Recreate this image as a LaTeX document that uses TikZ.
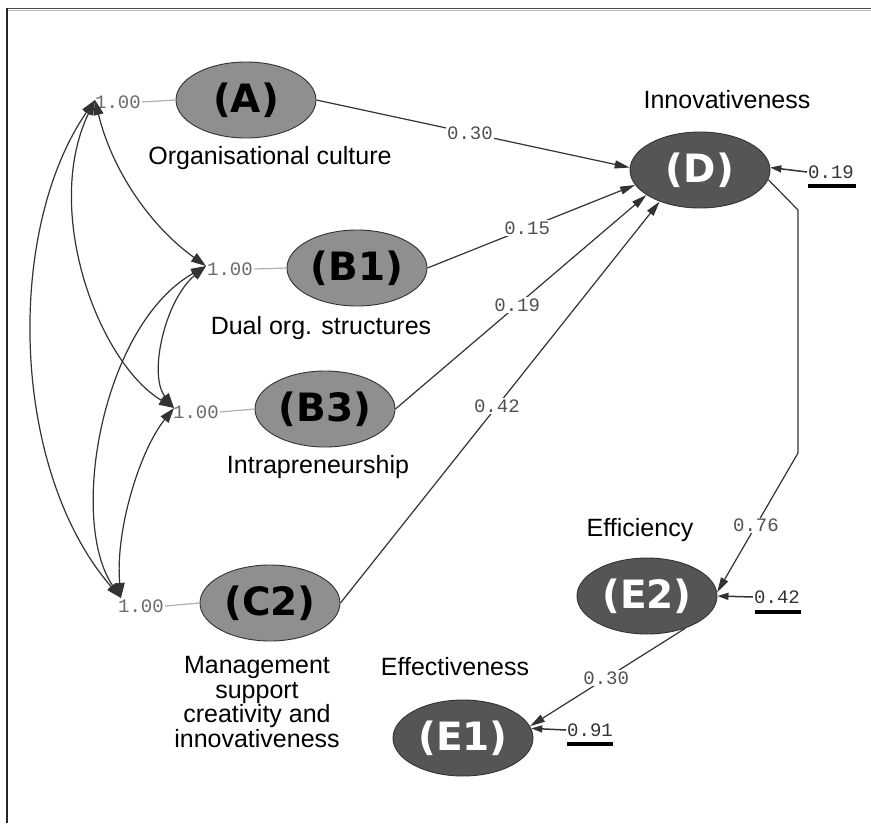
\documentclass[tikz,border=0pt]{standalone}
\usepackage{fontspec}
\setmainfont{Liberation Sans}
\newfontfamily\capfam{Liberation Sans}
\newfontfamily\latfam{DejaVu Sans}
\newfontfamily\numfam{Liberation Mono}
\usetikzlibrary{shapes.geometric,arrows.meta}
\definecolor{lightfill}{HTML}{8F8F8F}
\definecolor{darkfill}{HTML}{555555}
\definecolor{linecol}{HTML}{333333}
\definecolor{numcol}{HTML}{505050}
\definecolor{varcol}{HTML}{6A6A6A}
\definecolor{stubcol}{HTML}{B0B0B0}
\tikzset{
  lat/.style={ellipse, draw=black!80, line width=0.9pt, fill=lightfill,
    minimum width=140pt, minimum height=76pt, inner sep=0pt,
    font=\latfam\bfseries\fontsize{39}{39}\selectfont},
  latdark/.style={lat, fill=darkfill, text=white},
  capt/.style={font=\capfam\fontsize{25}{24.4}\selectfont, inner sep=0pt},
  varlbl/.style={font=\numfam\fontsize{19}{19}\selectfont, text=varcol, inner sep=1pt},
  lbl/.style={font=\numfam\fontsize{19}{19}\selectfont, text=numcol, fill=white, inner sep=1.5pt},
  reslbl/.style={font=\numfam\fontsize{19}{19}\selectfont, text=linecol, inner sep=1pt},
  pathln/.style={draw=linecol, line width=1.2pt, -{Triangle[length=15pt,width=8pt]}},
  covln/.style={draw=linecol, line width=1.2pt, {Triangle[length=15pt,width=10pt]}-{Triangle[length=15pt,width=10pt]}},
  resln/.style={draw=linecol, line width=1.5pt, -{Triangle[length=11pt,width=7pt]}},
  stub/.style={draw=stubcol, line width=1.2pt},
  resbar/.style={draw=black, line width=4pt},
}
\begin{document}
\begin{tikzpicture}[x=1pt,y=-1pt]
\useasboundingbox (0,0) rectangle (871,823);
\fill[white] (0,0) rectangle (871,823);
% frame
\draw[draw=black!70, line width=1.6pt] (6,8.4) -- (871,8.4);
\draw[draw=black!25, line width=1pt] (7,10) -- (871,10);
\draw[draw=black!85, line width=2pt] (6.5,8) -- (6.5,823);

% latent variables
\node[lat] (A) at (246,100) {(A)};
\node[lat] (B1) at (357,268) {(B1)};
\node[lat] (B3) at (325,409) {(B3)};
\node[lat] (C2) at (270,603) {(C2)};
\node[latdark] (D) at (700,170) {(D)};
\node[latdark] (E2) at (647,596) {(E2)};
\node[latdark] (E1) at (463,738) {(E1)};

% captions
\node[capt] (capA) at (270,158) {Organisational culture};
\node[capt] (capB1) at (321,328) {Dual org. structures};
\node[capt] (capB3) at (318,467) {Intrapreneurship};
\node[capt, align=center] (capC2) at (257,702) {Management\\support\\creativity and\\innovativeness};
\node[capt] (capD) at (727,100) {Innovativeness};
\node[capt] (capE2) at (640,530) {Efficiency};
\node[capt] (capE1) at (455,667) {Effectiveness};

% variances
\node[varlbl] (vA) at (118,102) {1.00};
\node[varlbl] (vB1) at (230,269) {1.00};
\node[varlbl] (vB3) at (196,412) {1.00};
\node[varlbl] (vC2) at (141,606) {1.00};
\draw[stub] (vA.east) -- (A.west);
\draw[stub] (vB1.east) -- (B1.west);
\draw[stub] (vB3.east) -- (B3.west);
\draw[stub] (vC2.east) -- (C2.west);

\coordinate (hA) at (95,100);
\coordinate (hB1) at (206,266);
\coordinate (hB3) at (174,408);
\coordinate (hC2) at (121,598);

% covariances
\draw[covln] (hA) .. controls (5,230) and (10,470) .. (hC2);
\draw[covln] (hA) .. controls (112,170) and (150,226) .. (hB1);
\draw[covln] (hA) .. controls (42,210) and (98,362) .. (hB3);
\draw[covln] (hB1) .. controls (165,300) and (148,375) .. (hB3);
\draw[covln] (hB1) .. controls (102,325) and (68,520) .. (hC2);
\draw[covln] (hB3) .. controls (140,450) and (115,530) .. (hC2);

% structural paths
\draw[pathln] (A.east) -- node[lbl, pos=0.49] {0.30} (D.178);
\draw[pathln] (B1.east) -- node[lbl, pos=0.48] {0.15} (D.193);
\draw[pathln] (B3.east) -- node[lbl, pos=0.485] {0.19} (D.205);
\draw[pathln] (C2.east) -- node[lbl, pos=0.49] {0.42} (D.218);
\coordinate (k1) at (798,210);
\coordinate (k2) at (798,453);
\draw[pathln] (D.-8) -- (k1) -- (k2) -- node[lbl, pos=0.52] {0.76} (E2.3);
\draw[pathln] (E2.-40) -- node[lbl, pos=0.51] {0.30} (E1.10);

% residuals
\node[reslbl] (rD) at (831,172) {0.19};
\node[reslbl] (rE2) at (777,597) {0.42};
\node[reslbl] (rE1) at (590,730) {0.91};
\draw[resbar] (808,186) -- (856,186);
\draw[resbar] (755,612) -- (801,612);
\draw[resbar] (567,744) -- (613,744);
\draw[resln] (rD.west) -- (D.2);
\draw[resln] (rE2.west) -- (E2.east);
\draw[resln] (rE1.west) -- (E1.8);
\end{tikzpicture}
\end{document}
